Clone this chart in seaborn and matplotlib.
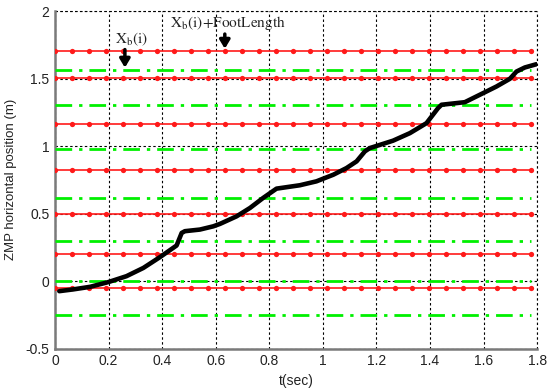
import numpy as np
import pandas as pd
import matplotlib
matplotlib.use("Agg")
import matplotlib.pyplot as plt
import seaborn as sns

# ZMP trajectory (black curve)
zmp_t = [0.016, 0.068, 0.131, 0.199, 0.267, 0.33, 0.392, 0.454, 0.473, 0.485, 0.541,
         0.591, 0.616, 0.678, 0.728, 0.777, 0.827, 0.914, 0.976, 1.039, 1.088, 1.126,
         1.157, 1.175, 1.262, 1.325, 1.387, 1.43, 1.443, 1.53, 1.586, 1.648, 1.698,
         1.723, 1.754, 1.797]
zmp_y = [-0.074, -0.061, -0.042, -0.007, 0.037, 0.098, 0.178, 0.264, 0.357, 0.37, 0.382,
         0.406, 0.424, 0.48, 0.542, 0.616, 0.685, 0.71, 0.739, 0.788, 0.837, 0.887,
         0.961, 0.985, 1.04, 1.096, 1.17, 1.281, 1.306, 1.325, 1.38, 1.441, 1.498,
         1.552, 1.582, 1.606]

# Foot position levels
xb_levels = [-0.25, 0.0, 0.298, 0.617, 0.978, 1.303, 1.564]          # green, Xb(i)
xb_foot_levels = [-0.054, 0.2, 0.495, 0.826, 1.167, 1.505, 1.707]    # red, Xb(i)+FootLength

line_t_start, line_t_end, n_markers = 0.0, 1.777, 29

x_ticks = [0, 0.2, 0.4, 0.6, 0.8, 1, 1.2, 1.4, 1.6, 1.8]
x_ticklabels = ["0", "0.2", "0.4", "0.6", "0.8", "1", "1.2", "1.4", "1.6", "1.8"]
y_ticks = [-0.5, 0, 0.5, 1, 1.5, 2]
y_ticklabels = ["-0.5", "0", "0.5", "1", "1.5", "2"]

sns.set_style("white")
plt.rcParams["font.family"] = ["Liberation Sans", "DejaVu Sans"]
plt.rcParams["mathtext.fontset"] = "stix"

fig = plt.figure(figsize=(5.47, 3.88), dpi=100)
ax = fig.add_axes([0.1005, 0.1013, 0.8815, 0.8703])

grid_t = np.linspace(line_t_start, line_t_end, n_markers)
for lv in xb_levels:
    df = pd.DataFrame({"t": grid_t, "y": [lv] * len(grid_t)})
    sns.lineplot(data=df, x="t", y="y", ax=ax, color="#00f000", lw=2.0,
                 linestyle=(0, (6, 2.5, 1.2, 2.5)), zorder=3)
for lv in xb_foot_levels:
    df = pd.DataFrame({"t": grid_t, "y": [lv] * len(grid_t)})
    sns.lineplot(data=df, x="t", y="y", ax=ax, color="#ff1a1a", lw=1.2,
                 marker="o", markersize=3.8, markeredgewidth=0, zorder=4)

df_zmp = pd.DataFrame({"t": zmp_t, "y": zmp_y})
sns.lineplot(data=df_zmp, x="t", y="y", ax=ax, color="black", lw=3.3, zorder=5,
             sort=False)

ax.set_xlim(0, 1.8)
ax.set_ylim(-0.5, 2)
ax.set_xticks(x_ticks)
ax.set_xticklabels(x_ticklabels)
ax.set_yticks(y_ticks)
ax.set_yticklabels(y_ticklabels)
ax.tick_params(axis="both", labelsize=10, length=0, pad=4)
for lab in ax.get_xticklabels() + ax.get_yticklabels():
    lab.set_color("#222222")

grid_style = dict(color="black", linestyle=(0, (2.2, 2.2)), lw=0.8)
ax.grid(True, **grid_style)
ax.set_axisbelow(True)
ax.axhline(2, clip_on=False, zorder=1, **grid_style)
ax.axvline(1.8, clip_on=False, zorder=1, **grid_style)

for s in ["top", "right"]:
    ax.spines[s].set_visible(False)
for s in ["left", "bottom"]:
    ax.spines[s].set_color("#7a7a7a")
    ax.spines[s].set_linewidth(1.8)

ax.set_xlabel("t(sec)", fontsize=10, color="#222222", labelpad=4)
ax.set_ylabel("ZMP horizontal position (m)", fontsize=9.5, color="#222222", labelpad=6)

ax.annotate("", xy=(0.261, 1.56), xytext=(0.261, 1.735),
            arrowprops=dict(arrowstyle="-|>,head_width=0.3,head_length=0.5",
                            color="black", lw=2.5), zorder=6)
ax.text(0.285, 1.79, r"$\mathrm{X_b(i)}$", fontsize=11, ha="center", va="center",
        color="#222222", zorder=6)
ax.annotate("", xy=(0.634, 1.70), xytext=(0.634, 1.85),
            arrowprops=dict(arrowstyle="-|>,head_width=0.3,head_length=0.5",
                            color="black", lw=2.5), zorder=6)
ax.text(0.645, 1.915, r"$\mathrm{X_b(i)\!+\!FootLength}$", fontsize=11, ha="center",
        va="center", color="#222222", zorder=6)

fig.savefig("out.png", dpi=100)
